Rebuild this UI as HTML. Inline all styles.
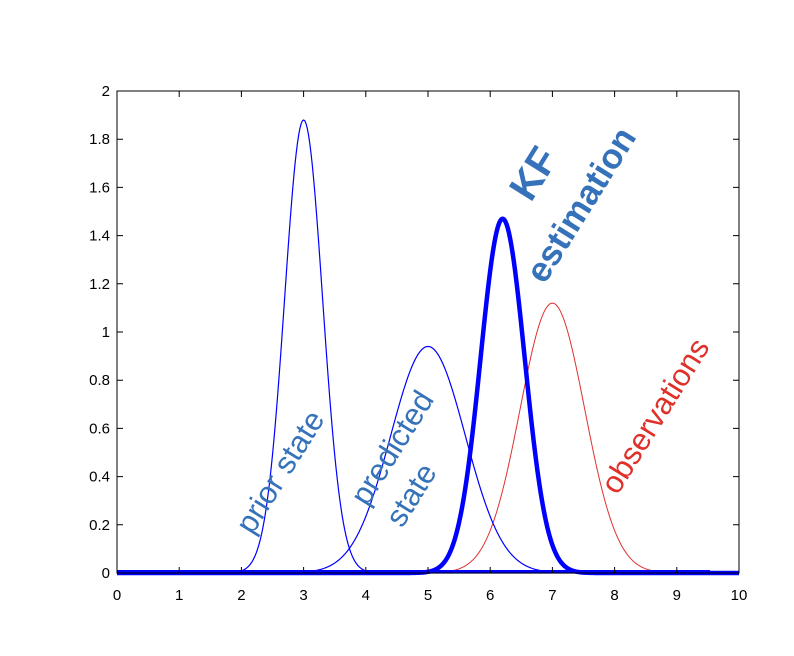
<!DOCTYPE html>
<html><head><meta charset="utf-8"><style>
html,body{margin:0;padding:0;background:#fff;width:794px;height:656px;overflow:hidden}
svg{display:block}
text{font-family:"Liberation Sans",Arial,sans-serif}
</style></head><body>
<svg id="s" width="794" height="656" viewBox="0 0 794 656" xmlns="http://www.w3.org/2000/svg">
<rect x="0" y="0" width="794" height="656" fill="#fff"/>
<g id="curves"></g>
<rect x="117" y="91" width="622" height="482" fill="none" stroke="#000" stroke-width="1"/>
<g id="ticks" stroke="#000" stroke-width="1"></g>
<g id="labels" font-size="15" fill="#000"></g>
<g fill="#3572b9">
<text transform="translate(282,473) rotate(-58)" text-anchor="middle" font-size="31" dominant-baseline="middle">prior state</text>
<text transform="translate(394,449) rotate(-58)" text-anchor="middle" font-size="31" dominant-baseline="middle">predicted</text>
<text transform="translate(413,496) rotate(-58)" text-anchor="middle" font-size="31" dominant-baseline="middle">state</text>
<text transform="translate(536,175) rotate(-58)" text-anchor="middle" font-size="40" font-weight="bold" dominant-baseline="middle">KF</text>
<text transform="translate(583,206) rotate(-58)" text-anchor="middle" font-size="35" font-weight="bold" dominant-baseline="middle">estimation</text>
</g>
<text transform="translate(657,417) rotate(-58)" text-anchor="middle" font-size="31" fill="#e0302a" dominant-baseline="middle">observations</text>
</svg>
<script>
var X0=117,SX=62.2,Y0=573,SY=241;
function px(x){return X0+x*SX}function py(y){return Y0-y*SY}
function g(mu,pk,s){var d='';for(var i=0;i<=500;i++){var x=i/50;var y=pk*Math.exp(-(x-mu)*(x-mu)/(2*s*s));d+=(i?'L':'M')+px(x).toFixed(2)+','+py(y).toFixed(2);}return d;}
var c=document.getElementById('curves'),ns='http://www.w3.org/2000/svg';
function add(d,col,w){var p=document.createElementNS(ns,'path');p.setAttribute('d',d);p.setAttribute('fill','none');p.setAttribute('stroke',col);p.setAttribute('stroke-width',w);p.setAttribute('stroke-linejoin','round');c.appendChild(p);}
add(g(7,1.12,0.52),'#e03030',1);
add(g(3,1.88,0.305),'#0000ff',1.2);
add(g(5,0.94,0.6),'#0000ff',1.2);
add('M117,571.5L710,571.5','#0000ff',3);
add(g(6.2,1.47,0.355),'#0000ff',4.5);
var t=document.getElementById('ticks'),l=document.getElementById('labels');
for(var i=0;i<=10;i++){var x=px(i);var a=document.createElementNS(ns,'path');a.setAttribute('d','M'+x+',573V567M'+x+',91V97');t.appendChild(a);
var tx=document.createElementNS(ns,'text');tx.setAttribute('x',x);tx.setAttribute('y',600);tx.setAttribute('text-anchor','middle');tx.textContent=i;l.appendChild(tx);}
for(var j=0;j<=10;j++){var v=j*0.2;var y=py(v);var a2=document.createElementNS(ns,'path');a2.setAttribute('d','M117,'+y+'H123M739,'+y+'H733');t.appendChild(a2);
var ty=document.createElementNS(ns,'text');ty.setAttribute('x',110);ty.setAttribute('y',y+5);ty.setAttribute('text-anchor','end');ty.textContent=(Math.round(v*10)/10).toString();l.appendChild(ty);}
</script>
</body></html>
